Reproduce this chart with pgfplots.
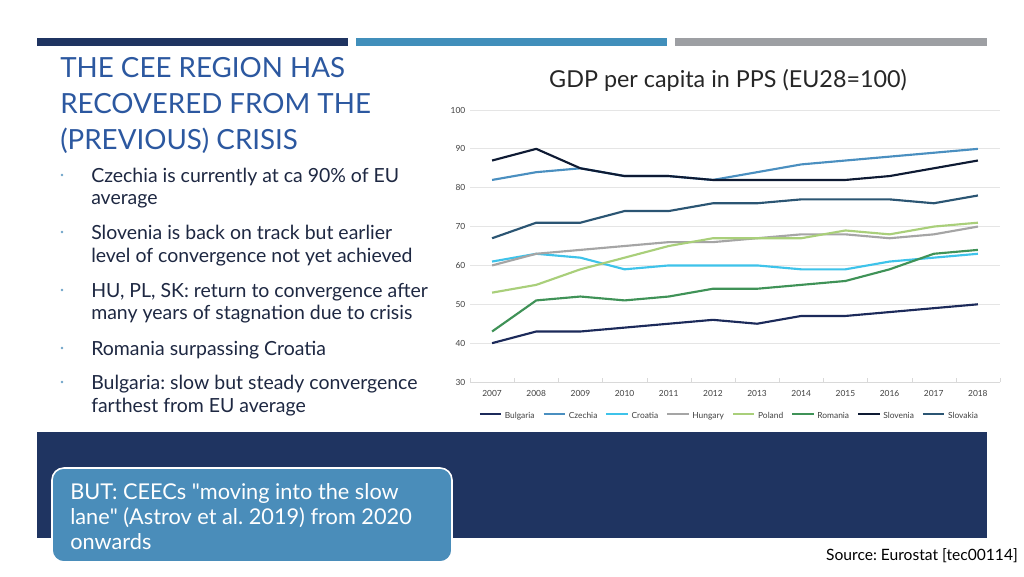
\documentclass[border=0pt]{standalone}
\usepackage{fontspec}
\setmainfont{Lato}
\usepackage{pgfplots}
\pgfplotsset{compat=1.18}
\usepackage{pgfplotstable}
\frenchspacing

\definecolor{navy}{RGB}{31,52,97}
\definecolor{barblue}{RGB}{65,143,187}
\definecolor{bargray}{RGB}{157,159,163}
\definecolor{titleblue}{RGB}{44,88,160}
\definecolor{bodytext}{RGB}{30,40,66}
\definecolor{boxblue}{RGB}{74,141,186}
\definecolor{cBG}{RGB}{28,42,90}
\definecolor{cCZ}{RGB}{74,143,192}
\definecolor{cHR}{RGB}{62,195,234}
\definecolor{cHU}{RGB}{165,165,165}
\definecolor{cPL}{RGB}{169,207,122}
\definecolor{cRO}{RGB}{63,146,87}
\definecolor{cSI}{RGB}{14,26,51}
\definecolor{cSK}{RGB}{43,85,115}

% GDP per capita in PPS, EU28 = 100
\pgfplotstableread{
year BG CZ HR HU PL RO SI SK
2007 40 82 61 60 53 43 87 67
2008 43 84 63 63 55 51 90 71
2009 43 85 62 64 59 52 85 71
2010 44 83 59 65 62 51 83 74
2011 45 83 60 66 65 52 83 74
2012 46 82 60 66 67 54 82 76
2013 45 84 60 67 67 54 82 76
2014 47 86 59 68 67 55 82 77
2015 47 87 59 68 69 56 82 77
2016 48 88 61 67 68 59 83 77
2017 49 89 62 68 70 63 85 76
2018 50 90 63 70 71 64 87 78
}\gdp

\begin{document}
\begin{tikzpicture}[x=0.75pt,y=-0.75pt]
  % slide frame
  \fill[white] (0,0) rectangle (1024,576);
  \fill[navy] (37,38) rectangle (348,46);
  \fill[barblue] (356,38) rectangle (667,46);
  \fill[bargray] (675,38) rectangle (987,46);

  % title
  \begin{scope}[every node/.style={anchor=base west,inner sep=0pt,text=titleblue,font=\fontsize{20.8}{24}\selectfont}]
    \node at (60,77) {THE CEE REGION HAS};
    \node at (60,113.5) {RECOVERED FROM THE};
    \node at (60,149.5) {(PREVIOUS) CRISIS};
  \end{scope}

  % bullets
  \begin{scope}[every node/.style={anchor=base west,inner sep=0pt,text=bodytext,font=\fontsize{14.6}{17}\selectfont}]
    \foreach \yy in {175,232,290,348,382} \fill[boxblue!80] (62,\yy) circle (1.4);
    \node at (91,182.5) {Czechia is currently at ca 90\% of EU};
    \node at (91,204.5) {average};
    \node at (91,239.5) {Slovenia is back on track but earlier};
    \node at (91,262.5) {level of convergence not yet achieved};
    \node at (91,297.5) {HU, PL, SK: return to convergence after};
    \node at (91,319.5) {many years of stagnation due to crisis};
    \node at (91,355.5) {Romania surpassing Croatia};
    \node at (91,389.5) {Bulgaria: slow but steady convergence};
    \node at (91,412.5) {farthest from EU average};
  \end{scope}

  % bottom band and box
  \fill[navy] (37,432) rectangle (987,538);
  \draw[white,line width=1.2pt,fill=boxblue,rounded corners=9pt] (52,468) rectangle (452,562);
  \begin{scope}[every node/.style={anchor=base west,inner sep=0pt,text=white,font=\fontsize{16.3}{19}\selectfont}]
    \node at (70,499) {BUT: CEECs \textquotedbl moving into the slow};
    \node at (70,524) {lane\textquotedbl{} (Astrov et al. 2019) from 2020};
    \node at (70,549) {onwards};
  \end{scope}
  \node[anchor=base east,inner sep=0pt,font=\fontsize{11.7}{13}\selectfont] at (1018,560) {Source: Eurostat [tec00114]};

  % chart
  \node[anchor=base,inner sep=0pt,text=black!85,font=\fontsize{17.5}{20}\selectfont] at (728,87) {GDP per capita in PPS (EU28=100)};
  \coordinate (plotSW) at (470,382);
  \begin{axis}[
      at={(plotSW)}, anchor=south west,
      scale only axis,
      width=397.5pt, height=204pt,
      xmin=2006.5, xmax=2018.5,
      ymin=30, ymax=100,
      xtick={2007,...,2018},
      xticklabels={2007,2008,2009,2010,2011,2012,2013,2014,2015,2016,2017,2018},
      minor xtick={2006.5,2007.5,...,2018.5},
      ytick={30,40,...,100},
      /pgf/number format/assume math mode=true,
      axis x line*=bottom, axis y line*=left,
      x axis line style={draw=black!15,-},
      y axis line style={draw=none},
      major tick length=0pt,
      minor tick length=3pt,
      minor x tick style={draw=black!15},
      ymajorgrids,
      grid style={draw=black!10,line width=0.6pt},
      ticklabel style={font=\fontsize{6.3}{7}\selectfont,text=black!75},
      xticklabel style={yshift=-3pt},
      clip=false,
      legend columns=8,
      legend style={at={(axis description cs:0.49,-0.118)},anchor=center,draw=none,fill=none,
        font=\fontsize{6.3}{7}\selectfont,text=black!75,
        nodes={text height=1.6ex,text depth=0.4ex},
        /tikz/every even column/.append style={column sep=4pt},
        inner sep=0pt},
      legend cell align=left,
      legend image code/.code={\draw[#1,line width=1.6pt] (0pt,0pt) -- (16pt,0pt);},
      every axis plot/.append style={line width=1.6pt,no markers,line join=round},
    ]
    \addplot[cBG] table[x=year,y=BG] {\gdp};
    \addplot[cCZ] table[x=year,y=CZ] {\gdp};
    \addplot[cHR] table[x=year,y=HR] {\gdp};
    \addplot[cHU] table[x=year,y=HU] {\gdp};
    \addplot[cPL] table[x=year,y=PL] {\gdp};
    \addplot[cRO] table[x=year,y=RO] {\gdp};
    \addplot[cSI] table[x=year,y=SI] {\gdp};
    \addplot[cSK] table[x=year,y=SK] {\gdp};
    \legend{Bulgaria,Czechia,Croatia,Hungary,Poland,Romania,Slovenia,Slovakia}
  \end{axis}
\end{tikzpicture}
\end{document}
